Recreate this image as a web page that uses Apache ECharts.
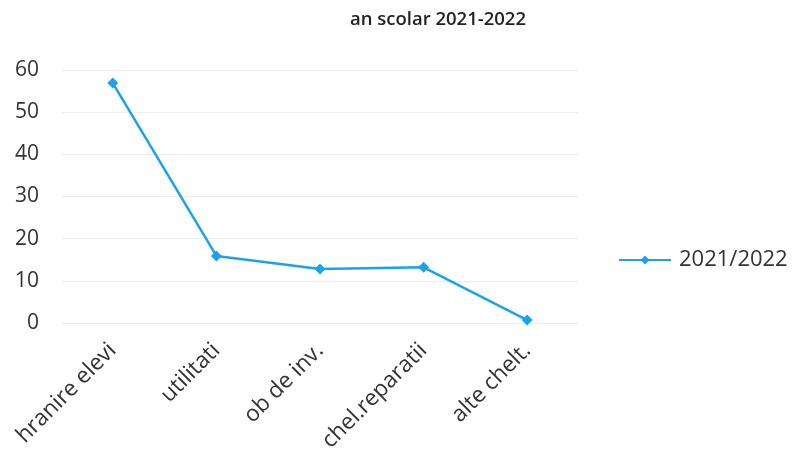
<!DOCTYPE html>
<html><head><meta charset="utf-8">
<script src="https://cdn.jsdelivr.net/npm/echarts@6/dist/echarts.min.js"></script>
<style>html,body{margin:0;padding:0;background:#fff}#c{width:798px;height:457px}</style>
</head><body><div id="c"></div>
<script>
const categories = ['hranire elevi', 'utilitati', 'ob de inv.', 'chel.reparatii', 'alte chelt.'];
const values2122 = [56.9, 15.9, 12.8, 13.2, 0.7];
const seriesName = '2021/2022';
const titleText = 'an scolar 2021-2022';

const chart = echarts.init(document.getElementById('c'));
chart.setOption({
  animation: false,
  title: {
    text: titleText, left: 433, top: 5, textAlign: 'center',
    textStyle: { fontFamily: 'Open Sans', fontSize: 18.5, fontWeight: 600, color: '#222' }
  },
  legend: {
    left: 613, top: 244, itemWidth: 52, itemHeight: 11, itemGap: 6,
    textStyle: { fontFamily: 'Open Sans', fontSize: 22, color: '#333', padding: [0, 0, 0, 3] },
    data: [seriesName]
  },
  grid: { left: 61, right: 219, top: 70, bottom: 134 },
  xAxis: {
    type: 'category', data: categories, boundaryGap: true,
    axisLine: { show: false }, axisTick: { show: false },
    axisLabel: { rotate: 45, margin: 24, fontFamily: 'Open Sans', fontSize: 22.5, color: '#333' }
  },
  yAxis: {
    type: 'value', min: 0, max: 60, interval: 10,
    axisLine: { show: false }, axisTick: { show: false },
    axisLabel: { margin: 22, fontFamily: 'Open Sans', fontSize: 21, color: '#333' },
    splitLine: { lineStyle: { color: '#ececec', width: 1 } }
  },
  series: [{
    name: seriesName, type: 'line', data: values2122,
    symbol: 'diamond', symbolSize: 11,
    lineStyle: { color: '#1aa3ec', width: 2.5 },
    itemStyle: { color: '#1aa3ec' }
  }]
});
</script></body></html>
